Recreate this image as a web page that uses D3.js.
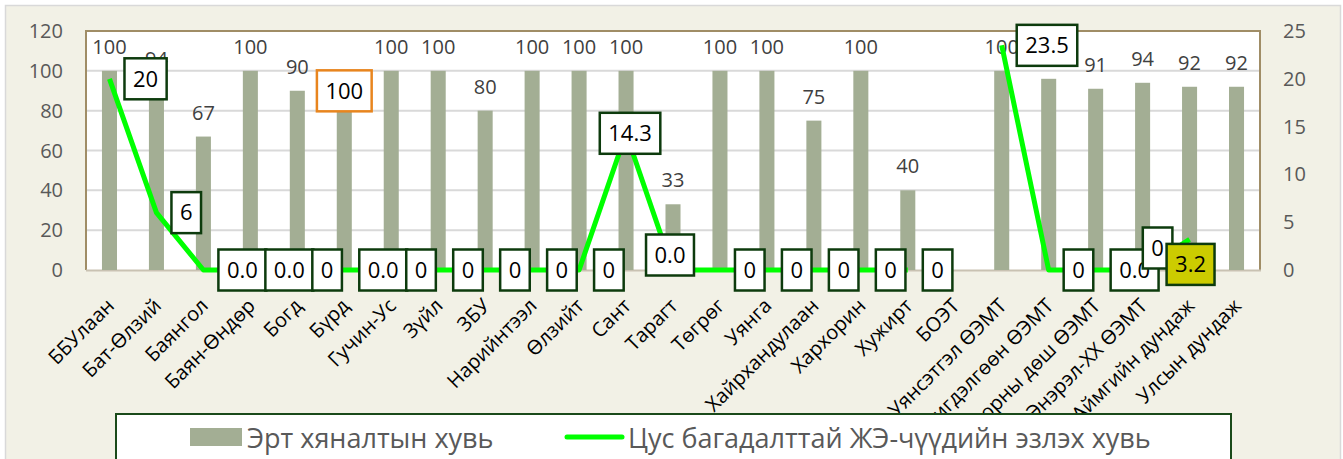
<!DOCTYPE html>
<html>
<head>
<meta charset="utf-8">
<script src="https://cdn.jsdelivr.net/npm/d3@7"></script>
<style>
  body { margin: 0; background: #ffffff; }
  text { font-family: "Open Sans", "Noto Sans", sans-serif; }
</style>
</head>
<body>
<svg id="chart"></svg>
<script>
// data
const categories = ["ББУлаан", "Бат-Өлзий", "Баянгол", "Баян-Өндөр", "Богд", "Бүрд", "Гучин-Ус", "Зүйл", "ЗБУ",
  "Нарийнтээл", "Өлзийт", "Сант", "Тарагт", "Төгрөг", "Уянга", "Хайрхандулаан", "Хархорин", "Хужирт", "БОЭТ",
  "Уянсэтгэл ӨЭМТ", "Хишигдэлгөөн ӨЭМТ", "Хангайн орны дөш ӨЭМТ", "Энэрэл-ХХ ӨЭМТ", "Аймгийн дундаж", "Улсын дундаж"];
const earlyCheck = [100, 94, 67, 100, 90, 100, 100, 100, 80, 100, 100, 100, 33, 100, 100, 75, 100, 40, null,
  100, 96, 91, 94, 92, 92];
const anemiaShare = [20, 6, 0, 0, 0, 0, 0, 0, 0, 0, 0, 14.3, 0, 0, 0, 0, 0, 0, null,
  23.5, 0, 0, 0, 3.2, null];
const anemiaLabels = ["20", "6", "0.0", "0.0", "0", "0.0", "0", "0", "0", "0", "0", "14.3", "0.0", "0", "0", "0", "0", "0", null,
  "23.5", "0", "0.0", "0", "3.2", null];
const leftTicks = [0, 20, 40, 60, 80, 100, 120];
const rightTicks = [0, 5, 10, 15, 20, 25];
const seriesNames = ["Эрт хяналтын хувь", "Цус багадалттай ЖЭ-чүүдийн эзлэх хувь"];

// label placement (Excel moved a few by hand)
const lineLabelPlace = {
  11: { mode: "center", dx: 4, dy: 0 },
  12: { mode: "center", dx: -3, dy: -15 },
  22: { mode: "center", dx: 15, dy: -22 },
  23: { mode: "center", dx: 1, dy: 25, fill: "#cccc00" }
};
const boxedBarLabel = { index: 5, dy: 20 };

const W = 1343, H = 459;
const plot = { left: 86, right: 1260, top: 31, bottom: 270 };

const svg = d3.select("#chart").attr("width", W).attr("height", H);

svg.append("rect").attr("x", 5.5).attr("y", 5.5).attr("width", 1335).attr("height", 470)
  .attr("fill", "#f2f1e6").attr("stroke", "#d9d9d9").attr("stroke-width", 1.5);

const x = d3.scaleBand().domain(categories).range([plot.left, plot.right])
  .paddingInner(0.68).paddingOuter(0.34);
const yL = d3.scaleLinear().domain([0, 120]).range([plot.bottom, plot.top]);
const yR = d3.scaleLinear().domain([0, 25]).range([plot.bottom, plot.top]);
const cx = d => x(d) + x.bandwidth() / 2;

// plot area
svg.append("rect").attr("x", plot.left).attr("y", plot.top)
  .attr("width", plot.right - plot.left).attr("height", plot.bottom - plot.top)
  .attr("fill", "#ffffff");

svg.append("g").selectAll("line").data(leftTicks.filter(t => t > 0 && t < 120)).join("line")
  .attr("x1", plot.left).attr("x2", plot.right)
  .attr("y1", d => yL(d)).attr("y2", d => yL(d))
  .attr("stroke", "#d9d9d9").attr("stroke-width", 2);

svg.append("path")
  .attr("d", `M${plot.left},${plot.bottom}V${plot.top}H${plot.right}V${plot.bottom}`)
  .attr("fill", "none").attr("stroke", "#a08d66").attr("stroke-width", 2);
svg.append("line").attr("x1", plot.left).attr("x2", plot.right + 1)
  .attr("y1", plot.bottom + 0.5).attr("y2", plot.bottom + 0.5)
  .attr("stroke", "#c9c2b2").attr("stroke-width", 2);

// axes labels
svg.append("g").selectAll("text").data(leftTicks).join("text")
  .attr("x", 63).attr("y", d => yL(d)).attr("dy", "0.35em")
  .attr("text-anchor", "end").attr("font-size", 20).attr("fill", "#595959")
  .text(d => d);
svg.append("g").selectAll("text").data(rightTicks).join("text")
  .attr("x", 1283).attr("y", d => yR(d)).attr("dy", "0.35em")
  .attr("text-anchor", "start").attr("font-size", 20).attr("fill", "#595959")
  .text(d => d);

// bars
const barData = categories.map((c, i) => ({ c, v: earlyCheck[i], i })).filter(d => d.v != null);
svg.append("g").selectAll("rect").data(barData).join("rect")
  .attr("x", d => x(d.c)).attr("y", d => yL(d.v))
  .attr("width", x.bandwidth()).attr("height", d => yL(0) - yL(d.v))
  .attr("fill", "#a3ae94");

svg.append("g").selectAll("text").data(barData.filter(d => d.i !== boxedBarLabel.index)).join("text")
  .attr("x", d => cx(d.c)).attr("y", d => yL(d.v) - 17)
  .attr("text-anchor", "middle").attr("font-size", 20).attr("fill", "#404040")
  .text(d => d.v);

// category labels
svg.append("g").selectAll("text").data(categories).join("text")
  .attr("transform", d => `translate(${cx(d) + 6},${307}) rotate(-45)`)
  .attr("text-anchor", "end").attr("font-size", 20).attr("fill", "#000000")
  .text(d => d);

// line
const lineData = categories.map((c, i) => ({ c, v: anemiaShare[i], i }));
const line = d3.line().defined(d => d.v != null).x(d => cx(d.c)).y(d => yR(d.v));
svg.append("path").datum(lineData).attr("d", line)
  .attr("fill", "none").attr("stroke", "#00ff00").attr("stroke-width", 5)
  .attr("stroke-linejoin", "round");

// boxed labels
function boxLabel(g, px, py, txt, opt) {
  const t = g.append("text").attr("font-size", 22).attr("fill", "#000000")
    .attr("text-anchor", "middle").attr("dy", "0.35em").text(txt);
  const w = t.node().getComputedTextLength() + 17, h = 41;
  let bx, by;
  if (opt.mode === "right") { bx = px + 15 + w / 2; by = py; }
  else { bx = px + opt.dx; by = py + opt.dy; }
  g.insert("rect", "text:last-child")
    .attr("x", bx - w / 2).attr("y", by - h / 2).attr("width", w).attr("height", h)
    .attr("fill", opt.fill || "#ffffff").attr("stroke", opt.stroke || "#0d3b0d").attr("stroke-width", 2.5);
  t.attr("x", bx).attr("y", by);
}

const lbl = svg.append("g");
lineData.forEach(d => {
  if (anemiaLabels[d.i] == null) return;
  const g = lbl.append("g");
  boxLabel(g, cx(d.c), yR(d.v), anemiaLabels[d.i], lineLabelPlace[d.i] || { mode: "right" });
});

const bb = barData.find(d => d.i === boxedBarLabel.index);
boxLabel(svg.append("g"), cx(bb.c), yL(bb.v), bb.v,
  { mode: "center", dx: 0, dy: boxedBarLabel.dy, stroke: "#e8851e" });

// legend
const lg = svg.append("g");
lg.append("rect").attr("x", 116).attr("y", 414).attr("width", 1115).attr("height", 60)
  .attr("fill", "#ffffff").attr("stroke", "#1a4a1a").attr("stroke-width", 2);
lg.append("rect").attr("x", 190).attr("y", 428).attr("width", 52).attr("height", 18).attr("fill", "#a3ae94");
lg.append("text").attr("x", 247).attr("y", 448).attr("font-size", 27).attr("fill", "#595959").text(seriesNames[0]);
lg.append("line").attr("x1", 567).attr("x2", 622).attr("y1", 437).attr("y2", 437)
  .attr("stroke", "#00ff00").attr("stroke-width", 5).attr("stroke-linecap", "round");
lg.append("text").attr("x", 628).attr("y", 448).attr("font-size", 27).attr("fill", "#595959").text(seriesNames[1]);
</script>
</body>
</html>
